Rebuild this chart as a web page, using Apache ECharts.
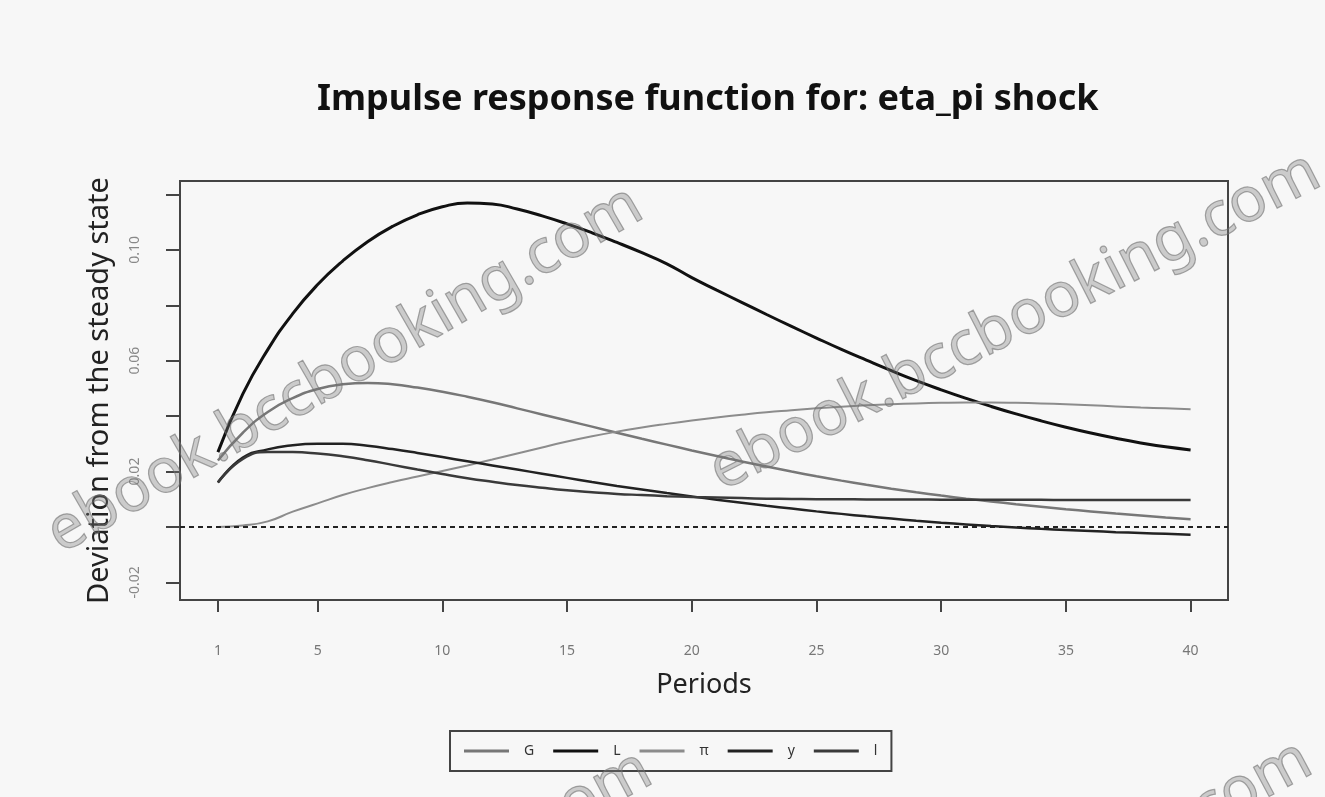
<!DOCTYPE html>
<html>
<head>
<meta charset="utf-8">
<script src="https://cdn.jsdelivr.net/npm/echarts@6.0.0/dist/echarts.min.js"></script>
<style>
  html, body { margin: 0; padding: 0; background: #f7f7f7; }
  #main { width: 1325px; height: 797px; }
</style>
</head>
<body>
<div id="main"></div>
<script>
// periods 1..40
var periods = [];
for (var p = 1; p <= 40; p++) periods.push(p);

var legendNames = ['G', 'L', 'π', 'y', 'l'];

// gray hump
var seriesG = [0.024, 0.034, 0.0415, 0.0465, 0.0498, 0.0515, 0.0520, 0.0515, 0.0503, 0.0488,
  0.0470, 0.0450, 0.0428, 0.0406, 0.0384, 0.0362, 0.0340, 0.0318, 0.0297, 0.0276,
  0.0256, 0.0236, 0.0218, 0.0200, 0.0183, 0.0167, 0.0152, 0.0138, 0.0125, 0.0113,
  0.0102, 0.0092, 0.0082, 0.0073, 0.0064, 0.0056, 0.0048, 0.0041, 0.0034, 0.0028];

// big black hump
var seriesL = [0.027, 0.048, 0.064, 0.077, 0.0875, 0.0960, 0.1030, 0.1085, 0.1127, 0.1156,
  0.1170, 0.1166, 0.1148, 0.1123, 0.1094, 0.1062, 0.1027, 0.0990, 0.0950, 0.0900,
  0.0855, 0.0811, 0.0767, 0.0724, 0.0682, 0.0641, 0.0602, 0.0564, 0.0528, 0.0495,
  0.0464, 0.0435, 0.0408, 0.0383, 0.0360, 0.0339, 0.0320, 0.0303, 0.0289, 0.0278];

// slowly rising gray line
var seriesPi = [0.000, 0.0005, 0.002, 0.0055, 0.0085, 0.0115, 0.0140, 0.0162, 0.0182, 0.0202,
  0.0222, 0.0243, 0.0265, 0.0287, 0.0308, 0.0327, 0.0344, 0.0359, 0.0372, 0.0384,
  0.0395, 0.0405, 0.0414, 0.0421, 0.0428, 0.0434, 0.0439, 0.0443, 0.0446, 0.0448,
  0.0449, 0.0449, 0.0448, 0.0446, 0.0443, 0.0439, 0.0435, 0.0431, 0.0428, 0.0425];

// black line ending below zero
var seriesY = [0.016, 0.025, 0.028, 0.0295, 0.030, 0.030, 0.0293, 0.0281, 0.0267, 0.0252,
  0.0237, 0.0222, 0.0207, 0.0192, 0.0177, 0.0162, 0.0148, 0.0135, 0.0122, 0.0110,
  0.0098, 0.0087, 0.0076, 0.0066, 0.0056, 0.0047, 0.0038, 0.0030, 0.0022, 0.0015,
  0.0009, 0.0003, -0.0002, -0.0007, -0.0011, -0.0015, -0.0019, -0.0022, -0.0025, -0.0028];

// black line levelling off
var seriesLl = [0.016, 0.0245, 0.027, 0.027, 0.0265, 0.0255, 0.0241, 0.0224, 0.0207, 0.0191,
  0.0176, 0.0163, 0.0151, 0.0141, 0.0132, 0.0125, 0.0119, 0.0115, 0.0111, 0.0108,
  0.0106, 0.0104, 0.0102, 0.0101, 0.0100, 0.0100, 0.0099, 0.0099, 0.0099, 0.0098,
  0.0098, 0.0098, 0.0098, 0.0098, 0.0097, 0.0097, 0.0097, 0.0097, 0.0097, 0.0097];

var xTicks = [1, 5, 10, 15, 20, 25, 30, 35, 40];
var yTicks = [-0.02, 0, 0.02, 0.04, 0.06, 0.08, 0.10, 0.12];
var yLabels = [-0.02, 0.02, 0.06, 0.10];

function pairs(vals) {
  return vals.map(function (v, i) { return [periods[i], v]; });
}

var chart = echarts.init(document.getElementById('main'));

var lineDefs = [
  { name: legendNames[0], data: seriesG, color: '#777777', width: 2.5 },
  { name: legendNames[1], data: seriesL, color: '#111111', width: 3 },
  { name: legendNames[2], data: seriesPi, color: '#8c8c8c', width: 2 },
  { name: legendNames[3], data: seriesY, color: '#222222', width: 2.5 },
  { name: legendNames[4], data: seriesLl, color: '#3a3a3a', width: 2.5 }
];

var series = lineDefs.map(function (d) {
  return {
    name: d.name,
    type: 'line',
    data: pairs(d.data),
    symbol: 'none',
    smooth: true,
    color: d.color,
    lineStyle: { color: d.color, width: d.width }
  };
});

series[0].markLine = {
  silent: true,
  symbol: 'none',
  label: { show: false },
  lineStyle: { color: '#222', type: [5, 4], width: 2 },
  data: [{ yAxis: 0 }]
};

var wm = { fill: 'rgba(120,120,120,0.35)', stroke: 'rgba(110,110,110,0.6)', lineWidth: 1.2 };
function watermark(x, y, deg) {
  return {
    type: 'text',
    x: x, y: y,
    rotation: deg * Math.PI / 180,
    z: 100,
    silent: true,
    style: {
      text: 'ebook.bccbooking.com',
      font: '62px "Noto Sans"',
      align: 'center',
      verticalAlign: 'middle',
      fill: wm.fill,
      stroke: wm.stroke,
      lineWidth: wm.lineWidth
    }
  };
}

var option = {
  backgroundColor: '#f7f7f7',
  animation: false,
  title: {
    text: 'Impulse response function for: eta_pi shock',
    left: 312,
    top: 77,
    textStyle: { fontFamily: 'Noto Sans', fontWeight: 'bold', fontSize: 36, color: '#111' }
  },
  legend: {
    data: legendNames,
    left: 450,
    top: 731,
    orient: 'horizontal',
    icon: 'rect',
    borderColor: '#444',
    borderWidth: 2,
    borderRadius: 0,
    padding: [13, 14],
    itemWidth: 45,
    itemHeight: 3,
    itemGap: 19,
    textStyle: { fontFamily: 'Noto Sans', fontSize: 14, color: '#333', padding: [0, 0, 0, 10] }
  },
  grid: {
    left: 180, right: 97, top: 181, bottom: 197,
    show: true,
    borderColor: '#444',
    borderWidth: 2,
    backgroundColor: 'transparent',
    containLabel: false
  },
  xAxis: {
    type: 'value',
    min: -0.52,
    max: 41.5,
    name: 'Periods',
    nameLocation: 'middle',
    nameGap: 72,
    nameTextStyle: { fontFamily: 'Noto Sans', fontSize: 27, color: '#222' },
    axisLine: { show: true, onZero: false, lineStyle: { color: '#444', width: 2 } },
    axisTick: { show: true, length: 12, customValues: xTicks, lineStyle: { color: '#444', width: 2 } },
    axisLabel: { customValues: xTicks, margin: 44, fontFamily: 'Noto Sans', fontSize: 14, color: '#777' },
    splitLine: { show: false }
  },
  yAxis: {
    type: 'value',
    min: -0.0264,
    max: 0.1249,
    name: 'Deviation from the steady state',
    nameLocation: 'middle',
    nameRotate: 90,
    nameGap: 66,
    nameTextStyle: { fontFamily: 'Noto Sans', fontSize: 29, color: '#222' },
    axisLine: { show: true, onZero: false, lineStyle: { color: '#444', width: 2 } },
    axisTick: { show: true, length: 14, customValues: yTicks, lineStyle: { color: '#444', width: 2 } },
    axisLabel: {
      customValues: yLabels,
      rotate: 90,
      margin: 38,
      fontFamily: 'Noto Sans',
      fontSize: 14,
      color: '#888',
      formatter: function (v) { return v.toFixed(2); }
    },
    splitLine: { show: false }
  },
  graphic: [
    watermark(345, 370, 30),
    watermark(1015, 322, 27),
    watermark(349, 925, 28),
    watermark(1009, 915, 28)
  ],
  series: series
};

chart.setOption(option);
</script>
</body>
</html>
